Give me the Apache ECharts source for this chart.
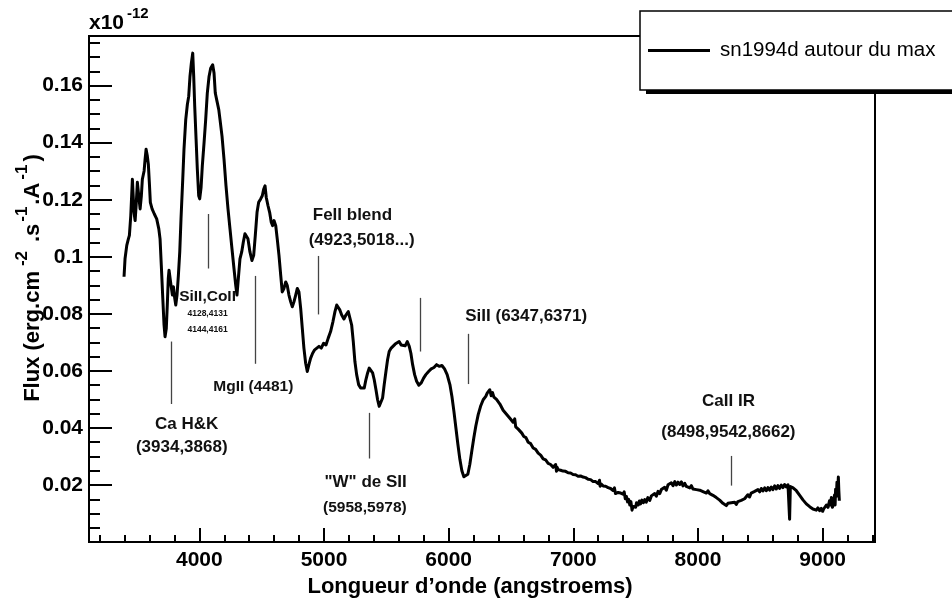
<!DOCTYPE html>
<html><head><meta charset="utf-8">
<script src="https://cdn.jsdelivr.net/npm/echarts@6/dist/echarts.min.js"></script>
<style>html,body{margin:0;padding:0;background:#fff}#c{width:952px;height:603px}</style>
</head><body><div id="c"></div>
<script>
// ---- data (flux in units of 1e-12 erg.cm-2.s-1.A-1) ----
const wavelength = [
3396,3404,3418,3431,3439,3450,3463,3476,3485,3493,3503,3514,3525,3535,3543,3557,3565,3573,3583,3591,
3599,3607,3621,3639,3658,3675,3685,3695,3707,3717,3725,3735,3743,3751,3757,3765,3773,3784,3792,3803,
3811,3821,3832,3843,3853,3867,3877,3891,3904,3915,3925,3936,3947,3955,3963,3974,3984,3995,4003,4014,
4024,4038,4051,4064,4078,4091,4107,4118,4128,4142,4156,4166,4182,4198,4214,4230,4246,4262,4278,4292,
4302,4313,4326,4340,4353,4366,4380,4390,4406,4422,4436,4449,4463,4476,4492,4505,4516,4527,4537,4551,
4564,4577,4588,4599,4613,4625,4639,4653,4665,4679,4693,4705,4719,4733,4746,4759,4773,4786,4799,4813,
4826,4839,4853,4866,4879,4893,4909,4925,4941,4960,4978,4997,5016,5034,5053,5072,5088,5102,5128,5142,
5160,5176,5195,5208,5222,5235,5248,5262,5278,5294,5310,5323,5336,5350,5363,5377,5390,5403,5417,5430,
5443,5457,5470,5483,5497,5510,5523,5539,5555,5571,5587,5603,5619,5635,5651,5668,5684,5697,5711,5727,
5743,5761,5780,5799,5817,5839,5860,5882,5903,5924,5946,5967,5988,6010,6026,6042,6058,6074,6090,6106,
6122,6138,6154,6170,6186,6202,6218,6237,6256,6277,
6298,6309,6320,6330,6341,6352,6363,6374,6384,6398,6411,6424,6437,6450,6464,6478,6491,6504,6517,6530,
6538,6545,6558,6571,6587,6603,6620,6638,6658,6678,6698,6718,6738,6758,6778,6798,6818,6838,6858,6865,
6870,6878,6898,6918,6938,6958,6978,6998,7018,7038,7058,7078,7098,7119,7139,7159,7179,7199,7210,7215,
7222,7239,7259,7279,7299,7319,7330,7338,7359,7380,
7399,7408,7417,7426,7435,7444,7453,7462,7471,7479,7490,7500,7507,7520,7530,7539,7550,7562,7573,7585,
7598,7613,7626,7640,7653,7666,7680,7693,7706,7720,7733,7746,7760,7773,7786,7800,7814,7827,7840,7854,
7867,7880,7894,7907,7920,7934,7947,7960,7974,7987,8000,8014,8027,8040,8054,8067,8080,8094,8107,8120,
8134,8147,8160,8174,8187,8200,8214,8227,8240,8254,8267,8280,8294,8307,8320,8334,8347,8360,8374,8387,
8400,8414,8427,8440,8455,8468,8481,8495,8508,8521,8535,8548,8561,8575,8588,8601,8615,8628,8641,8655,
8668,8682,8695,8708,8722,8732,8735,8738,8741,8750,8763,8776,8789,8802,8816,8829,8842,8856,8869,8882,
8896,8909,8922,8936,8949,8962,8976,8989,9000,9008,9020,9030,9043,9055,9063,9070,9078,9088,9095,9100,
9104,9110,9115,9120,9126,9130,9134
];
const flux = [
.0930,.0993,.1040,.1063,.1075,.1144,.1272,.1156,.1127,.1179,.1261,.1214,.1168,.1214,.1272,.1301,.1342,.1377,.1353,.1325,
.1261,.1191,.1168,.1150,.1133,.1098,.1063,.0970,.0854,.0761,.0720,.0749,.0831,.0924,.0953,.0947,.0900,.0866,.0895,.0854,
.0831,.0866,.0935,.1017,.1133,.1272,.1377,.1481,.1534,.1563,.1632,.1679,.1714,.1632,.1528,.1412,.1307,.1214,.1203,.1243,
.1319,.1400,.1481,.1574,.1632,.1661,.1673,.1644,.1574,.1545,.1516,.1481,.1423,.1342,.1249,.1168,.1098,.1028,.0959,.0900,
.0866,.0924,.0993,.1017,.1052,.1081,.1086,.1063,.1017,.0987,.1005,.1075,.1156,.1191,.1203,.1214,.1237,.1249,.1208,.1179,
.1156,.1121,.1109,.1127,.1109,.1063,.1005,.0935,.0877,.0889,.0912,.0900,.0866,.0842,.0825,.0842,.0866,.0889,.0877,.0819,
.0749,.0680,.0627,.0598,.0622,.0645,.0662,.0674,.0674,.0686,.0680,.0697,.0691,.0715,.0738,.0773,.0808,.0831,.0813,.0796,
.0782,.0796,.0808,.0802,.0761,.0703,.0633,.0587,.0552,.0540,.0534,.0540,.0569,.0593,.0610,.0610,.0593,.0569,.0534,.0499,
.0476,.0476,.0505,.0552,.0598,.0639,.0668,.0680,.0686,.0694,.0688,.0703,.0691,.0697,.0688,.0703,.0686,.0662,.0622,.0587,
.0564,.0550,.0558,.0575,.0587,.0598,.0607,.0612,.0622,.0616,.0619,.0607,.0587,.0552,.0511,.0459,.0401,.0343,.0290,.0250,
.0229,.0224,.0238,.0273,.0320,.0366,.0407,.0447,.0476,.0499,
.0511,.0522,.0515,.0534,.0513,.0524,.0508,.0512,.0500,.0494,.0484,.0478,.0462,.0460,.0448,.0444,.0434,.0430,.0420,.0432,
.0404,.0410,.0396,.0390,.0382,.0370,.0366,.0350,.0345,.0330,.0325,.0312,.0305,.0292,.0288,.0276,.0272,.0262,.0272,.0248,
.0262,.0254,.0252,.0249,.0248,.0243,.0242,.0237,.0236,.0231,.0232,.0228,.0226,.0220,.0219,.0212,.0212,.0205,.0217,.0196,
.0204,.0197,.0196,.0191,.0188,.0181,.0190,.0170,.0174,.0172,
.0168,.0176,.0152,.0160,.0141,.0150,.0130,.0142,.0112,.0125,.0131,.0122,.0138,.0130,.0144,.0134,.0147,.0138,.0149,.0140,
.0156,.0146,.0162,.0158,.0170,.0161,.0178,.0170,.0184,.0178,.0192,.0182,.0201,.0194,.0208,.0198,.0212,.0200,.0210,.0202,
.0211,.0197,.0206,.0195,.0200,.0190,.0198,.0186,.0193,.0184,.0190,.0182,.0189,.0177,.0184,.0172,.0180,.0170,.0177,.0164,
.0170,.0156,.0158,.0147,.0150,.0136,.0142,.0128,.0136,.0130,.0138,.0131,.0140,.0132,.0142,.0136,.0146,.0141,.0152,.0150,
.0166,.0158,.0172,.0166,.0178,.0171,.0184,.0176,.0188,.0179,.0190,.0180,.0191,.0182,.0193,.0184,.0197,.0186,.0198,.0188,
.0200,.0191,.0202,.0193,.0201,.0196,.0080,.0078,.0195,.0199,.0190,.0188,.0180,.0176,.0164,.0160,.0148,.0146,.0134,.0132,
.0124,.0128,.0116,.0122,.0112,.0120,.0110,.0118,.0108,.0116,.0112,.0130,.0122,.0145,.0130,.0156,.0122,.0132,.0165,.0130,
.0185,.0160,.0210,.0170,.0228,.0180,.0145
];
const seriesName = 'sn1994d autour du max';
const xTickLabels = [4000, 5000, 6000, 7000, 8000, 9000];
const yTickLabels = ['0.02','0.04','0.06','0.08','0.1','0.12','0.14','0.16'];

// line identifications: vertical markers (wavelength, top flux, bottom flux)
const markerWavelength = [3773, 4072, 4447, 4957, 5772, 5360, 6154, 8270];
const markerTop        = [0.0703, 0.1150, 0.0933, 0.1003, 0.0856, 0.0453, 0.0730, 0.0302];
const markerBottom     = [0.0484, 0.0959, 0.0625, 0.0798, 0.0668, 0.0293, 0.0554, 0.0198];
// annotation texts anchored in data coordinates
const noteText = ['Ca H&K','(3934,3868)','SiII,CoII','4128,4131','4144,4161','MgII (4481)',
  'FeII blend','(4923,5018...)','"W" de SII','(5958,5978)','SiII (6347,6371)','CaII IR','(8498,9542,8662)'];
const noteWavelength = [3899, 3859, 4066, 4066, 4066, 4433, 5228, 5302, 5334, 5328, 6622, 8245, 8244];
const noteFlux = [0.0412, 0.0331, 0.0860, 0.0799, 0.0746, 0.0544, 0.1147, 0.1057, 0.0209, 0.0119, 0.0790, 0.0494, 0.0386];

// ---- styling ----
const FONT = '"Liberation Sans", Arial, Helvetica, sans-serif';
const noteFontSize = [17, 17, 15.5, 8.5, 8.5, 15.5, 17, 17, 17, 15.5, 17, 17, 17];
const X_MIN = 3115, X_MAX = 9420, Y_MIN = 0, Y_MAX = 0.1774;

const chart = echarts.init(document.getElementById('c'), null, {renderer: 'canvas'});
const spectrum = wavelength.map((w, i) => [w, flux[i]]);

const option = {
  animation: false,
  backgroundColor: '#fff',
  grid: {left: 89, right: 77, top: 36, bottom: 58, show: true, borderColor: '#000', borderWidth: 2, backgroundColor: 'transparent'},
  xAxis: [
    {
      type: 'value', min: X_MIN, max: X_MAX, minInterval: 1000, maxInterval: 1000,
      axisLine: {show: true, onZero: false, lineStyle: {color: '#000', width: 2}},
      axisTick: {show: true, inside: true, length: 14, lineStyle: {color: '#000', width: 2}},
      splitLine: {show: false},
      axisLabel: {
        show: true, margin: 8, color: '#000', fontSize: 21, fontWeight: 'bold', fontFamily: FONT,
        showMinLabel: true, showMaxLabel: true,
        formatter: v => xTickLabels.includes(Math.round(v)) && Math.abs(v - Math.round(v)) < 1e-6 ? String(Math.round(v)) : ''
      },
      name: 'Longueur d\u2019onde (angstroems)', nameLocation: 'middle', nameGap: 30,
      nameTextStyle: {color: '#000', fontSize: 22, fontWeight: 'bold', fontFamily: FONT, padding: [0, 24, 0, 0]}
    },
    {
      type: 'value', min: X_MIN, max: X_MAX, minInterval: 200, maxInterval: 200, position: 'bottom', offset: 0,
      axisLine: {show: false}, splitLine: {show: false}, axisLabel: {show: false},
      axisTick: {show: true, inside: true, length: 7, lineStyle: {color: '#000', width: 2}}
    }
  ],
  yAxis: [
    {
      type: 'value', min: Y_MIN, max: Y_MAX, minInterval: 0.02, maxInterval: 0.02,
      axisLine: {show: true, onZero: false, lineStyle: {color: '#000', width: 2}},
      axisTick: {show: true, inside: true, length: 23, lineStyle: {color: '#000', width: 2}},
      splitLine: {show: false},
      axisLabel: {
        show: true, margin: 6, color: '#000', fontSize: 21, fontWeight: 'bold', fontFamily: FONT,
        formatter: v => { const s = String(+(+v).toFixed(4)); return yTickLabels.includes(s) ? s : ''; }
      }
    },
    {
      type: 'value', min: Y_MIN, max: Y_MAX, minInterval: 0.005, maxInterval: 0.005, position: 'left', offset: 0,
      axisLine: {show: false}, splitLine: {show: false}, axisLabel: {show: false},
      axisTick: {show: true, inside: true, length: 11, lineStyle: {color: '#000', width: 2}}
    }
  ],
  legend: {
    left: 640, top: 11, orient: 'horizontal', z: 20,
    data: [{name: seriesName, icon: 'rect', itemStyle: {color: '#000'}}],
    itemWidth: 62, itemHeight: 3, itemGap: 0,
    padding: [29, 60, 29, 8],
    backgroundColor: '#fff', borderColor: '#000', borderWidth: 1.5, borderRadius: 0,
    textStyle: {color: '#000', fontSize: 20.5, fontFamily: FONT, padding: [0, 0, 0, 5]}
  },
  graphic: [
    {type: 'rect', left: 646, top: 15, z: 10, shape: {width: 330, height: 79}, style: {fill: '#000'}},
    {type: 'text', left: 89, top: 13, z: 100, style: {text: 'x10', font: 'bold 21px ' + FONT, fill: '#000'}},
    {type: 'text', left: 127, top: 6, z: 100, style: {text: '-12', font: 'bold 15px ' + FONT, fill: '#000'}},
    {
      type: 'text', x: 29, y: 278, rotation: Math.PI / 2, z: 100,
      style: {
        text: '{m|Flux (erg.cm}{g5| }{s|-2}{g9| }{m|.s}{g2| }{s|-1}{g2| }{m|.A}{g3| }{s|-1}{g3| }{m|)}',
        align: 'center', verticalAlign: 'middle', fill: '#000',
        rich: {
          m: {fontSize: 22, fontWeight: 'bold', fontFamily: FONT, lineHeight: 30, verticalAlign: 'bottom', fill: '#000'},
          s: {fontSize: 17, fontWeight: 'bold', fontFamily: FONT, lineHeight: 17, verticalAlign: 'top', fill: '#000'},
          g5: {fontSize: 18, fontFamily: FONT, lineHeight: 10},
          g9: {fontSize: 32, fontFamily: FONT, lineHeight: 10},
          g2: {fontSize: 7, fontFamily: FONT, lineHeight: 7},
          g3: {fontSize: 11, fontFamily: FONT, lineHeight: 7}
        }
      }
    }
  ],
  series: [
    {
      name: seriesName, type: 'line', xAxisIndex: 0, yAxisIndex: 0,
      data: spectrum, showSymbol: false, symbol: 'none', smooth: false,
      lineStyle: {color: '#000', width: 3, join: 'round'},
      itemStyle: {color: '#000'},
      z: 3,
      markLine: {
        silent: true, symbol: ['none', 'none'], animation: false,
        label: {show: false},
        lineStyle: {color: '#444', width: 1.3, type: 'solid'},
        data: markerWavelength.map((w, i) => [{coord: [w, markerTop[i]]}, {coord: [w, markerBottom[i]]}])
      }
    },
    {
      name: 'notes', type: 'scatter', xAxisIndex: 0, yAxisIndex: 0,
      symbolSize: 1, itemStyle: {color: 'transparent', opacity: 1}, silent: true, z: 5,
      data: noteText.map((t, i) => ({
        value: [noteWavelength[i], noteFlux[i]],
        label: {fontSize: noteFontSize[i]}
      })),
      label: {
        show: true, position: 'inside', color: '#111', opacity: 1, fontWeight: 'bold', fontFamily: FONT,
        formatter: p => noteText[p.dataIndex]
      }
    }
  ]
};
chart.setOption(option);
</script>
</body></html>
